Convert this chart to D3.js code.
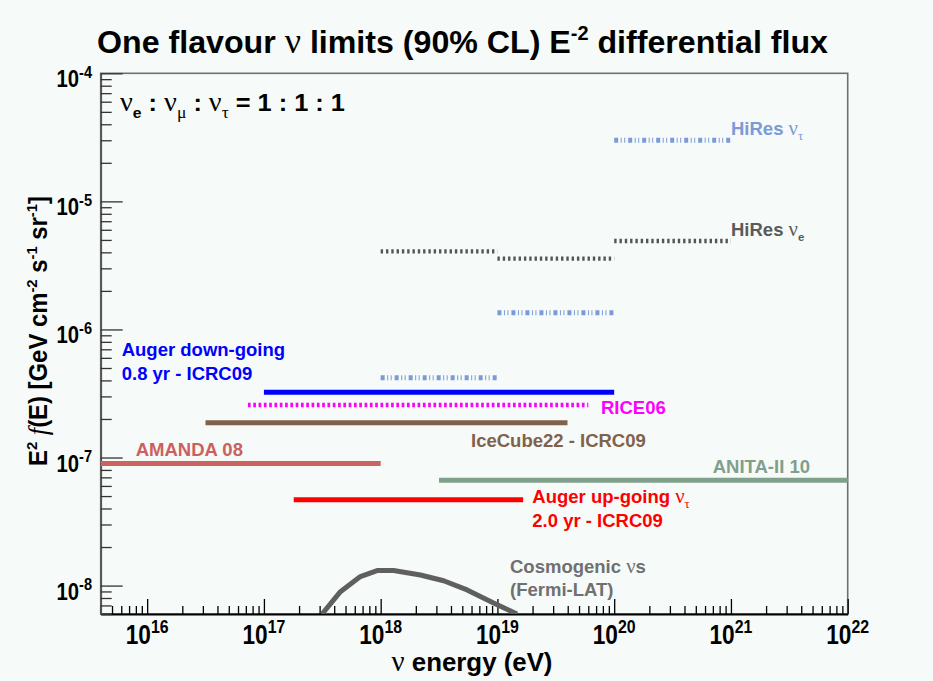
<!DOCTYPE html>
<html><head><meta charset="utf-8">
<script src="https://cdn.jsdelivr.net/npm/d3@7"></script>
<style>
html,body{margin:0;padding:0;background:#f6faf8;}
svg{display:block;}
text{font-family:"Liberation Sans",Arial,Helvetica,sans-serif;font-weight:bold;}
</style></head><body>
<svg id="c" width="933" height="681"></svg>
<script>
// ---------------- data ----------------
const xDomain = [4e15, 1e22];
const yDomain = [6e-9, 1e-4];
const xTickExps = [16, 17, 18, 19, 20, 21, 22];
const yTickExps = [-8, -7, -6, -5, -4];

// [E start (eV), E end (eV), E^2 f(E)]
const hiresTau  = [[1e18, 1e19, 4.2e-7], [1e19, 1e20, 1.35e-6], [1e20, 1e21, 3.0e-5]];
const hiresE    = [[1e18, 1e19, 4.07e-6], [1e19, 1e20, 3.57e-6], [1e20, 1e21, 4.9e-6]];
const augerDown = [[1e17, 1e20, 3.24e-7]];
const rice06    = [[7.3e16, 6.0e19, 2.57e-7]];
const icecube22 = [[3.16e16, 3.98e19, 1.87e-7]];
const amanda08  = [[1e15, 1e18, 8.96e-8]];
const anita2    = [[3.16e18, 1e23, 6.65e-8]];
const augerUp   = [[1.8e17, 1.66e19, 4.69e-8]];
const cosmoE = [3.15e17, 4.52e17, 6.70e17, 9.31e17, 1.29e18, 2.19e18, 3.46e18, 5.50e18, 9.27e18, 1.47e19];
const cosmoF = [6.0e-9, 8.97e-9, 1.175e-8, 1.31e-8, 1.31e-8, 1.21e-8, 1.09e-8, 9.25e-9, 7.3e-9, 6.0e-9];

// ---------------- layout ----------------
const svg = d3.select('#c');
const m = {l: 100.7, r: 847.7, t: 73.3, b: 614};
const x = d3.scaleLog().domain(xDomain).range([m.l, m.r]);
const y = d3.scaleLog().domain(yDomain).range([m.b, m.t]);
const GREEK = '"Liberation Serif","DejaVu Serif",serif';

svg.append('rect').attr('width', 933).attr('height', 681).attr('fill', '#f6faf8');

svg.append('defs').append('clipPath').attr('id', 'clip')
  .append('rect').attr('x', m.l).attr('y', m.t).attr('width', m.r - m.l).attr('height', m.b - m.t);

// frame
svg.append('rect').attr('x', m.l).attr('y', m.t).attr('width', m.r - m.l).attr('height', m.b - m.t)
  .attr('fill', 'none').attr('stroke', '#707070').attr('stroke-width', 1.6);

// rich text helper
function rich(parent, parts, o) {
  const g = parent.append('g');
  const t = g.append('text').attr('fill', o.fill || '#000').attr('font-size', o.size)
    .attr('text-anchor', o.anchor || 'start');
  const sr = o.sup || 0.62;
  let shift = 0;
  parts.forEach(p => {
    const str = p[0], kind = p[1] || '', fam = p[2] || '';
    const ts = t.append('tspan').text(str);
    const target = kind === 'sup' ? -0.42 * o.size : kind === 'sub' ? 0.28 * o.size : 0;
    ts.attr('dy', target - shift); shift = target;
    let fs = kind ? o.size * sr : o.size;
    if (fam === 'g') { ts.attr('font-family', GREEK).attr('font-weight', 'normal'); fs *= 1.12; }
    if (fam === 'i') { ts.attr('font-family', GREEK).attr('font-style', 'italic').attr('font-weight', 'normal'); fs *= 1.1; }
    ts.attr('font-size', fs);
  });
  let sx = o.scaleX || 1;
  if (o.fit) sx = o.fit / t.node().getComputedTextLength();
  g.attr('transform', `translate(${o.x},${o.y}) rotate(${o.rot || 0}) scale(${sx},1)`);
  return g;
}

// ---------------- axes ----------------
function logTicks(dom) {
  const out = [];
  const lo = Math.floor(Math.log10(dom[0])), hi = Math.ceil(Math.log10(dom[1]));
  for (let e = lo; e <= hi; e++) for (let k = 1; k <= 9; k++) {
    const v = k * Math.pow(10, e);
    if (v >= dom[0] * 0.999 && v <= dom[1] * 1.001) out.push(v);
  }
  return out;
}
const isMajor = v => Math.abs(Math.log10(v) - Math.round(Math.log10(v))) < 1e-6;

const gx = svg.append('g').attr('transform', `translate(0,${m.b})`)
  .call(d3.axisBottom(x).tickValues(logTicks(xDomain)).tickSize(-8).tickSizeOuter(0).tickFormat(''));
gx.selectAll('.tick line').attr('stroke', '#000').attr('stroke-width', 1.3)
  .attr('y2', d => isMajor(d) ? -15 : -8);
gx.select('.domain').attr('stroke', '#000').attr('stroke-width', 2.2);

const gy = svg.append('g').attr('transform', `translate(${m.l},0)`)
  .call(d3.axisLeft(y).tickValues(logTicks(yDomain)).tickSize(-11).tickSizeOuter(0).tickFormat(''));
gy.selectAll('.tick line').attr('stroke', '#333').attr('stroke-width', 1.3)
  .attr('x2', d => isMajor(d) ? 22 : 11);
gy.select('.domain').attr('stroke', '#555').attr('stroke-width', 1.8);

xTickExps.forEach(e => rich(svg, [['10'], [String(e), 'sup']],
  {x: x(Math.pow(10, e)), y: 644, size: 27, anchor: 'middle', scaleX: 0.84, sup: 0.7}));
yTickExps.forEach(e => rich(svg, [['10'], [String(e), 'sup']],
  {x: 92, y: y(Math.pow(10, e)) + 14, size: 23, anchor: 'end', scaleX: 0.88, sup: 0.72}));

// title & axis titles
rich(svg, [['One flavour '], ['ν', '', 'g'], [' limits (90% CL) E'], ['-2', 'sup'], [' differential flux']],
  {x: 462.5, y: 53, size: 32, anchor: 'middle', fit: 731});
rich(svg, [['ν', '', 'g'], [' energy (eV)']], {x: 472, y: 671, size: 26, anchor: 'middle', fit: 161});
rich(svg, [['E'], ['2', 'sup'], [' '], ['f', '', 'i'], ['(E) [GeV cm'], ['-2', 'sup'], [' s'], ['-1', 'sup'], [' sr'], ['-1', 'sup'], [']']],
  {x: 47, y: 331, size: 25, anchor: 'middle', rot: -90, fit: 270});

// ---------------- data marks ----------------
const plot = svg.append('g').attr('clip-path', 'url(#clip)');
function segs(data, color, width, dash) {
  plot.append('g').selectAll('line').data(data).join('line')
    .attr('x1', d => x(d[0])).attr('x2', d => x(d[1]))
    .attr('y1', d => y(d[2])).attr('y2', d => y(d[2]))
    .attr('stroke', color).attr('stroke-width', width)
    .attr('stroke-dasharray', dash || null);
}
segs(hiresTau, '#7b9bd6', 5, '4,2.5,1,2.5,1,3');
segs(hiresE, '#555555', 4.4, '2.4,2.9');
segs(amanda08, '#cc6262', 5);
segs(icecube22, '#80624b', 5);
segs(rice06, '#ff00ff', 4.6, '2.7,2.6');
segs(augerDown, '#0000ff', 5);
segs(anita2, '#80a08c', 5);
segs(augerUp, '#ff0000', 5);

plot.append('path').datum(d3.zip(cosmoE, cosmoF))
  .attr('d', d3.line().x(d => x(d[0])).y(d => y(d[1])))
  .attr('fill', 'none').attr('stroke', '#5f5f5f').attr('stroke-width', 5).attr('stroke-linejoin', 'round');

// ---------------- annotations ----------------
const S = 18.5;
rich(svg, [['ν', '', 'g'], ['e', 'sub'], [' : '], ['ν', '', 'g'], ['μ', 'sub', 'g'], [' : '], ['ν', '', 'g'], ['τ', 'sub', 'g'], [' = 1 : 1 : 1']],
  {x: 120, y: 111, size: 24, fit: 225});
rich(svg, [['HiRes '], ['ν', '', 'g'], ['τ', 'sub', 'g']], {x: 731, y: 135, size: S, fill: '#7b9bd6'});
rich(svg, [['HiRes '], ['ν', '', 'g'], ['e', 'sub']], {x: 731, y: 236, size: S, fill: '#5a5a5a'});
rich(svg, [['Auger down-going']], {x: 121.7, y: 356, size: S, fill: '#0000ff'});
rich(svg, [['0.8 yr - ICRC09']], {x: 121.7, y: 379.5, size: S, fill: '#0000ff'});
rich(svg, [['RICE06']], {x: 601, y: 414, size: S, fill: '#ff00ff'});
rich(svg, [['IceCube22 - ICRC09']], {x: 471, y: 447, size: S, fill: '#80624b'});
rich(svg, [['AMANDA 08']], {x: 135.7, y: 456, size: S, fill: '#cc6060'});
rich(svg, [['ANITA-II 10']], {x: 712.7, y: 472.7, size: S, fill: '#80a08c'});
rich(svg, [['Auger up-going '], ['ν', '', 'g'], ['τ', 'sub', 'g']], {x: 532.3, y: 502.7, size: S, fill: '#ff0000'});
rich(svg, [['2.0 yr - ICRC09']], {x: 532.3, y: 527.3, size: S, fill: '#ff0000'});
rich(svg, [['Cosmogenic '], ['ν', '', 'g'], ['s']], {x: 510, y: 573, size: S, fill: '#707070'});
rich(svg, [['(Fermi-LAT)']], {x: 510, y: 595.5, size: S, fill: '#707070'});
</script>
</body></html>
